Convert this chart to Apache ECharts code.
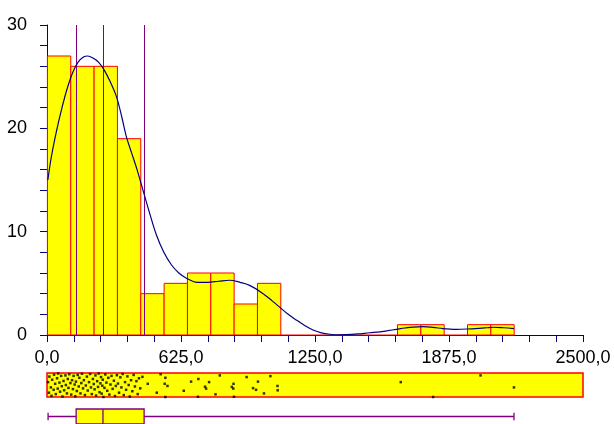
<!DOCTYPE html>
<html>
<head>
<meta charset="utf-8">
<script src="https://cdn.jsdelivr.net/npm/echarts@6/dist/echarts.min.js"></script>
<style>
  html, body { margin: 0; padding: 0; background: #ffffff; }
  #chart { width: 614px; height: 424px; }
</style>
</head>
<body>
<div id="chart"></div>
<script>
// Histogram bins: 20 equal bins starting at the sample minimum
const binStart = 2;
const binWidth = 108.85;
const binCounts = [27, 26, 26, 19, 4, 5, 6, 6, 3, 5, 0, 0, 0, 0, 0, 1, 1, 0, 1, 1];

// Quartiles (Q1, median, Q3) and whisker ends
const quartiles = [136, 261, 453];
const whiskerEnds = [5, 2178];

// Tick labels (every 625 on x, every 10 on y; unlabelled ticks in between)
const xTickLabels = ['0,0', '625,0', '1250,0', '1875,0', '2500,0'];
const yTickLabels = ['0', '10', '20', '30'];

// Kernel density estimate, scaled to counts: [value, height]
const densityCurve = [
  [4, 15.0], [20, 17.2], [45, 19.8], [70, 22.0], [95, 23.9], [120, 25.4],
  [145, 26.4], [170, 26.9], [190, 27.0], [215, 26.8], [240, 26.4], [265, 25.7],
  [295, 24.5], [325, 23.0], [350, 21.0], [370, 19.2], [395, 17.6], [420, 16.0],
  [452, 13.7], [480, 11.7], [510, 9.7], [545, 8.0], [580, 6.8], [615, 6.0],
  [650, 5.5], [700, 5.1], [750, 5.1], [800, 5.2], [852, 5.3], [900, 5.1],
  [945, 4.8], [1008, 4.0], [1050, 3.3], [1085, 2.7], [1125, 2.0], [1163, 1.45],
  [1200, 0.95], [1241, 0.48], [1280, 0.2], [1319, 0.07], [1360, 0.02], [1396, 0.03],
  [1450, 0.1], [1505, 0.22], [1551, 0.3], [1590, 0.42], [1630, 0.55], [1670, 0.68],
  [1707, 0.77], [1754, 0.81], [1800, 0.74], [1847, 0.62], [1880, 0.57], [1910, 0.55],
  [1960, 0.58], [2018, 0.65], [2050, 0.7], [2080, 0.75], [2130, 0.7], [2178, 0.62]
];

// Individual observations for the strip plot: [value, vertical jitter 0..1]
const samples = [
  [5, .62], [9, .18], [11, .85], [18, .40], [21, .05], [24, .72], [31, .30], [33, .93], [38, .55],
  [41, .12], [47, .78], [50, .35], [52, .98], [58, .60], [61, .22], [66, .88], [69, .45], [72, .02],
  [77, .67], [80, .28], [86, .90], [88, .50], [93, .15], [97, .75], [100, .38], [104, .95], [109, .58],
  [113, .10], [117, .70], [121, .33], [124, .88], [129, .52], [132, .03], [135, .64], [139, .25],
  [143, .92], [148, .44], [151, .80], [156, .15], [160, .58], [163, .97], [168, .36], [172, .70],
  [177, .08], [181, .48], [186, .85], [190, .27], [196, .62], [201, .96], [205, .40], [209, .12],
  [214, .75], [218, .54],
  [222, .32], [226, .90], [229, .06], [234, .66], [238, .42], [241, .98], [245, .20], [249, .57],
  [252, .83], [255, .14], [258, .47], [260, .72], [263, .00], [268, .38], [272, .94], [277, .60],
  [281, .26], [286, .80], [291, .10], [296, .52], [301, .88], [306, .34], [312, .68], [317, .04],
  [321, .46], [326, .91],
  [331, .56], [336, .18], [342, .82], [347, .40], [353, .96], [358, .08], [364, .62], [369, .30],
  [375, .86], [381, .50], [386, .02], [392, .70], [398, .24], [404, .92], [410, .44], [417, .66],
  [423, .12], [429, .78], [435, .36],
  [445, .84], [470, .55], [512, .18], [530, .95],
  [552, .80], [549, .55], [562, .46], [552, .00], [638, .26],
  [672, .64], [706, .75], [704, .01], [756, .62], [737, .43], [742, .35],
  [786, .11], [806, .90], [862, .42], [869, .35], [870, .55], [872, .01],
  [931, .83], [961, .37], [975, .30],
  [984, .64], [1012, .15], [1042, .87], [1075, .46], [1076, .28],
  [1650, .62], [1801, .00], [2022, .90], [2178, .40]
];

const NAVY = '#000080';
const PURPLE = '#800080';
const FONT = "'Liberation Sans', Arial, sans-serif";

const histData = binCounts.map((c, i) => [binStart + i * binWidth, binStart + (i + 1) * binWidth, c]);

const chart = echarts.init(document.getElementById('chart'), null, { renderer: 'canvas' });

const hiddenX = (idx) => ({ type: 'value', gridIndex: idx, min: 0, max: 2500, show: false });

function tickLabel(labels, step) {
  return (v) => {
    const k = v / step;
    return Math.abs(k - Math.round(k)) < 1e-6 ? labels[Math.round(k)] : '';
  };
}

chart.setOption({
  animation: false,
  backgroundColor: '#ffffff',
  grid: [
    { left: 47, right: 31, top: 25, bottom: 89 },
    { left: 47, right: 31, top: 373, height: 24, show: true,
      backgroundColor: '#ffff00', borderColor: '#ff0000', borderWidth: 1.5 },
    { left: 47, right: 31, top: 409, height: 16 }
  ],
  xAxis: [
    {
      type: 'value', gridIndex: 0, min: 0, max: 2500, interval: 125,
      axisLine: { show: true, onZero: false, lineStyle: { color: NAVY, width: 1 } },
      axisTick: { show: true, length: 7, lineStyle: { color: NAVY, width: 1 } },
      splitLine: { show: false },
      axisLabel: {
        margin: 14, color: '#000', fontSize: 18, fontFamily: FONT, lineHeight: 18,
        formatter: tickLabel(xTickLabels, 625)
      }
    },
    hiddenX(1),
    hiddenX(2)
  ],
  yAxis: [
    {
      type: 'value', gridIndex: 0, min: 0, max: 30, interval: 2,
      axisLine: { show: true, lineStyle: { color: NAVY, width: 1 } },
      axisTick: { show: true, length: 7, lineStyle: { color: NAVY, width: 1 } },
      splitLine: { show: false },
      axisLabel: {
        margin: 20, color: '#000', fontSize: 18, fontFamily: FONT,
        formatter: tickLabel(yTickLabels, 10)
      }
    },
    { type: 'value', gridIndex: 1, min: 0, max: 1, show: false },
    { type: 'value', gridIndex: 2, min: 0, max: 1, show: false }
  ],
  series: [
    {
      // histogram bars
      type: 'custom',
      xAxisIndex: 0, yAxisIndex: 0,
      z: 2,
      data: histData,
      encode: { x: [0, 1], y: 2 },
      renderItem: (params, api) => {
        const top = api.coord([api.value(0), api.value(2)]);
        const base = api.coord([api.value(1), 0]);
        if (api.value(2) === 0) {
          return { type: 'line', shape: { x1: top[0], y1: base[1], x2: base[0], y2: base[1] },
                   style: { stroke: '#ff0000', lineWidth: 1 } };
        }
        return {
          type: 'rect',
          shape: { x: top[0], y: top[1], width: base[0] - top[0], height: base[1] - top[1] },
          style: { fill: '#ffff00', stroke: '#ff0000', lineWidth: 1 }
        };
      },
      markLine: {
        silent: true,
        symbol: ['none', 'none'],
        label: { show: false },
        lineStyle: { color: PURPLE, width: 1, type: 'solid' },
        data: quartiles.map((q) => ({ xAxis: q }))
      }
    },
    {
      // density curve
      type: 'line',
      xAxisIndex: 0, yAxisIndex: 0,
      z: 5,
      data: densityCurve,
      smooth: 0.35,
      showSymbol: false,
      lineStyle: { color: NAVY, width: 1.2 }
    },
    {
      // strip plot of observations
      type: 'scatter',
      xAxisIndex: 1, yAxisIndex: 1,
      z: 5,
      data: samples,
      symbol: 'rect',
      symbolSize: 2.5,
      itemStyle: { color: '#000000' }
    },
    {
      // box plot
      type: 'custom',
      xAxisIndex: 2, yAxisIndex: 2,
      z: 5,
      data: [[quartiles[0], quartiles[1], quartiles[2], whiskerEnds[0], whiskerEnds[1]]],
      encode: { x: [0, 1, 2, 3, 4] },
      renderItem: (params, api) => {
        const q1 = api.coord([api.value(0), 1]);
        const med = api.coord([api.value(1), 0]);
        const q3 = api.coord([api.value(2), 0]);
        const lo = api.coord([api.value(3), 0.5]);
        const hi = api.coord([api.value(4), 0.5]);
        const capTop = api.coord([0, 0.75])[1];
        const capBot = api.coord([0, 0.25])[1];
        const ls = { stroke: PURPLE, lineWidth: 1.3 };
        return {
          type: 'group',
          children: [
            { type: 'line', shape: { x1: lo[0], y1: lo[1], x2: hi[0], y2: hi[1] }, style: ls },
            { type: 'line', shape: { x1: lo[0], y1: capTop, x2: lo[0], y2: capBot }, style: ls },
            { type: 'line', shape: { x1: hi[0], y1: capTop, x2: hi[0], y2: capBot }, style: ls },
            { type: 'rect', shape: { x: q1[0], y: q1[1], width: q3[0] - q1[0], height: q3[1] - q1[1] },
              style: { fill: '#ffff00', stroke: PURPLE, lineWidth: 1.3 } },
            { type: 'line', shape: { x1: med[0], y1: q1[1], x2: med[0], y2: med[1] }, style: ls }
          ]
        };
      }
    }
  ]
});
</script>
</body>
</html>
